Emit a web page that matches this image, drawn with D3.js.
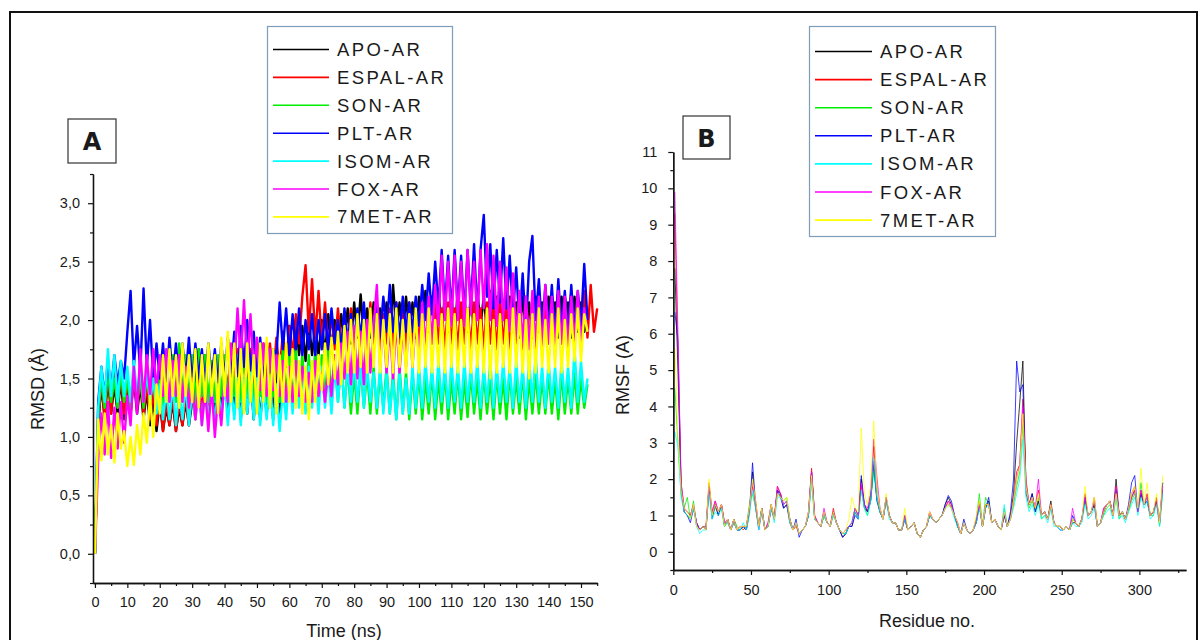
<!DOCTYPE html>
<html>
<head>
<meta charset="utf-8">
<script src="https://cdn.jsdelivr.net/npm/d3@7"></script>
<style>
  html, body { margin: 0; padding: 0; background: #fff; }
  svg { display: block; }
  text { font-family: "Liberation Sans", Arial, sans-serif; fill: #1a1a1a; }
</style>
</head>
<body>
<svg id="chart" width="1200" height="640"></svg>
<script>
// ---------------- DATA ----------------
const seriesNames = ["APO-AR", "ESPAL-AR", "SON-AR", "PLT-AR", "ISOM-AR", "FOX-AR", "7MET-AR"];
const seriesColors = ["#000000", "#ff0000", "#00ee00", "#0000ff", "#00ffff", "#ff00ff", "#ffff00"];

// Panel A: RMSD (Å) sampled every 1 ns from t = 0 ns (noisy trajectories, read as band extremes)
const rmsdAPO = [
0,1.1,1.45,1.15,1.5,1.2,1.45,1.2,1.5,1.15,
1.45,1.2,1.5,1.2,1.45,1.15,1.4,1.1,1.3,1.05,
1.3,1.05,1.25,1.1,1.3,1.05,1.25,1.1,1.3,1.1,
1.3,1.5,1.75,1.45,1.7,1.25,1.5,1.2,1.55,1.2,
1.55,1.2,1.6,1.2,1.55,1.15,1.5,1.2,1.55,1.15,
1.5,1.15,1.45,1.2,1.5,1.15,1.6,1.2,1.65,1.6,
1.95,1.65,2.0,1.7,1.95,1.65,2.0,1.7,1.95,1.7,
2.0,1.7,2.05,1.75,2.0,1.75,2.05,1.8,2.1,1.8,
2.15,1.85,2.22,1.85,2.1,1.85,2.15,1.9,2.1,1.85,
2.15,1.85,2.3,1.9,2.15,1.85,2.2,1.9,2.15,1.85,
2.2,1.9,2.25,1.9,2.2,1.9,2.25,1.95,2.2,1.9,
2.2,1.9,2.25,1.95,2.2,1.9,2.2,1.9,2.25,1.95,
2.2,1.9,2.25,1.9,2.2,1.9,2.15,1.85,2.2,1.9,
2.15,1.85,2.2,1.9,2.15,1.85,2.2,1.9,2.15,1.85,
2.2,1.9,2.15,1.85,2.2,1.9,2.15,1.85,2.2,1.9,
2.15,1.9,2.05];
const rmsdESPAL = [
0,1.1,1.5,1.15,1.55,1.2,1.6,1.25,1.55,1.2,
1.5,1.2,1.55,1.25,1.5,1.2,1.45,1.15,1.4,1.1,
1.35,1.05,1.3,1.1,1.35,1.05,1.3,1.1,1.35,1.1,
1.4,1.15,1.5,1.2,1.55,1.25,1.6,1.3,1.6,1.35,
1.65,1.4,1.7,1.4,1.75,1.45,1.7,1.4,1.75,1.45,
1.75,1.45,1.8,1.5,1.8,1.5,1.85,1.55,1.9,1.6,
1.95,1.7,2.05,1.8,2.2,2.47,1.9,2.35,1.85,2.25,
1.8,2.15,1.75,2.05,1.75,2.1,1.75,2.05,1.8,2.1,
1.75,2.05,1.8,2.1,1.75,2.15,1.8,2.1,1.75,2.05,
1.8,2.1,1.75,2.15,1.8,2.1,1.75,2.15,1.8,2.1,
1.8,2.15,1.75,2.1,1.8,2.15,1.8,2.1,1.75,2.15,
1.8,2.1,1.75,2.15,1.8,2.1,1.75,2.15,1.8,2.1,
1.75,2.15,1.8,2.1,1.75,2.15,1.8,2.1,1.75,2.2,
1.8,2.15,1.75,2.2,1.8,2.15,1.75,2.2,1.8,2.15,
1.8,2.2,1.75,2.25,1.8,2.2,1.8,2.25,1.85,2.2,
1.85,2.25,1.85,2.3,1.9,2.1];
const rmsdSON = [
0,1.2,1.5,1.25,1.55,1.3,1.5,1.25,1.55,1.3,
1.5,1.25,1.55,1.3,1.5,1.25,1.55,1.3,1.55,1.25,
1.6,1.25,1.65,1.3,1.7,1.3,1.8,1.35,1.7,1.3,
1.7,1.3,1.75,1.35,1.7,1.3,1.65,1.3,1.7,1.35,
1.7,1.3,1.75,1.35,1.7,1.3,1.75,1.35,1.7,1.3,
1.7,1.35,1.75,1.3,1.7,1.35,1.7,1.3,1.75,1.35,
1.7,1.3,1.75,1.35,1.7,1.3,1.7,1.35,1.75,1.3,
1.7,1.3,1.75,1.35,1.7,1.3,1.65,1.25,1.6,1.2,
1.55,1.2,1.6,1.25,1.55,1.2,1.6,1.2,1.55,1.25,
1.6,1.2,1.55,1.15,1.6,1.2,1.55,1.15,1.55,1.2,
1.55,1.15,1.5,1.2,1.55,1.15,1.5,1.2,1.55,1.15,
1.5,1.2,1.55,1.15,1.5,1.17,1.55,1.2,1.5,1.15,
1.55,1.2,1.5,1.15,1.55,1.2,1.5,1.15,1.55,1.2,
1.5,1.2,1.55,1.15,1.5,1.2,1.55,1.2,1.5,1.2,
1.55,1.2,1.5,1.15,1.55,1.2,1.5,1.2,1.55,1.2,
1.5,1.25,1.45];
const rmsdPLT = [
0,1.3,1.6,1.35,1.65,1.4,1.7,1.45,1.65,1.5,
1.9,2.25,1.6,1.95,1.55,2.27,1.6,2.0,1.5,1.8,
1.5,1.8,1.45,1.85,1.5,1.8,1.45,1.8,1.5,1.85,
1.45,1.8,1.5,1.75,1.45,1.8,1.5,1.75,1.45,1.8,
1.5,1.85,1.55,1.9,1.5,1.95,1.6,2.0,1.55,1.9,
1.5,1.85,1.45,1.8,1.55,1.75,1.7,2.15,1.75,2.1,
1.7,2.05,1.75,2.1,1.7,2.0,1.75,2.05,1.7,2.0,
1.75,2.05,1.75,2.1,1.8,2.0,1.75,2.1,1.8,2.05,
1.8,2.1,1.85,2.15,1.8,2.1,1.85,2.15,1.85,2.2,
1.9,2.3,1.9,2.15,1.85,2.2,1.9,2.15,1.9,2.2,
1.95,2.3,2.0,2.4,2.05,2.5,2.1,2.6,2.1,2.55,
2.05,2.6,2.1,2.55,2.05,2.6,2.1,2.65,2.05,2.6,
2.9,2.2,2.65,2.1,2.6,2.15,2.7,2.1,2.55,2.05,
2.45,1.95,2.4,1.9,2.5,2.72,2.0,2.35,1.9,2.3,
1.9,2.3,1.85,2.35,1.9,2.25,1.85,2.3,1.9,2.25,
1.95,2.48,2.0];
const rmsdISOM = [
0,1.25,1.6,1.3,1.75,1.35,1.7,1.3,1.65,1.35,
1.6,1.3,1.65,1.35,1.6,1.3,1.55,1.3,1.5,1.2,
1.45,1.15,1.4,1.15,1.45,1.1,1.4,1.15,1.45,1.1,
1.4,1.15,1.45,1.1,1.4,1.15,1.45,1.1,1.45,1.15,
1.5,1.1,1.45,1.15,1.5,1.1,1.5,1.2,1.55,1.15,
1.5,1.1,1.45,1.15,1.5,1.1,1.45,1.05,1.4,1.15,
1.55,1.2,1.6,1.25,1.55,1.2,1.6,1.25,1.55,1.2,
1.6,1.25,1.55,1.2,1.6,1.3,1.65,1.25,1.6,1.3,
1.65,1.3,1.6,1.25,1.6,1.3,1.55,1.25,1.6,1.2,
1.55,1.2,1.5,1.15,1.55,1.2,1.5,1.2,1.6,1.25,
1.6,1.25,1.65,1.3,1.6,1.25,1.65,1.3,1.6,1.25,
1.65,1.3,1.6,1.25,1.65,1.3,1.6,1.3,1.65,1.25,
1.6,1.3,1.65,1.25,1.6,1.3,1.65,1.3,1.6,1.25,
1.65,1.3,1.6,1.25,1.65,1.3,1.7,1.3,1.6,1.25,
1.65,1.3,1.6,1.25,1.65,1.3,1.6,1.25,1.75,1.3,
1.65,1.3,1.5];
const rmsdFOX = [
0,0.8,1.2,0.85,1.3,0.82,1.25,0.9,1.3,0.95,
1.35,1.1,1.6,1.2,1.75,1.3,1.7,1.35,1.75,1.4,
1.7,1.35,1.75,1.3,1.65,1.35,1.7,1.3,1.6,1.25,
1.5,1.15,1.45,1.1,1.4,1.05,1.45,1.0,1.35,1.1,
1.5,1.3,1.8,1.55,2.1,1.65,2.17,1.6,2.05,1.55,
1.85,1.4,1.8,1.35,1.75,1.4,1.7,1.35,1.65,1.3,
1.6,1.3,1.65,1.35,1.6,1.3,1.55,1.3,1.65,1.35,
1.55,1.3,1.6,1.35,1.7,1.45,1.8,1.5,1.9,1.45,
1.95,1.5,1.9,1.45,2.0,1.55,1.95,2.3,1.6,2.0,
1.55,1.95,1.5,2.0,1.55,1.95,1.6,2.05,1.6,2.0,
1.7,2.15,1.75,2.2,1.8,2.3,1.95,2.55,2.0,2.5,
1.95,2.55,2.0,2.5,1.95,2.6,2.05,2.5,2.0,2.6,
2.1,2.65,2.0,2.55,1.95,2.5,2.0,2.45,1.9,2.4,
1.85,2.25,1.8,2.2,1.75,2.25,1.8,2.2,1.75,2.3,
1.8,2.2,1.75,2.25,1.8,2.2,1.75,2.2,1.8,2.25,
1.8,2.1,1.9];
const rmsd7MET = [
0,1.15,0.8,1.2,0.85,1.1,0.78,1.2,0.9,1.05,
0.75,1.0,0.76,1.1,0.85,1.2,0.95,1.35,1.0,1.45,
1.2,1.7,1.3,1.75,1.35,1.7,1.25,1.8,1.35,1.7,
1.3,1.75,1.25,1.7,1.3,1.8,1.35,1.7,1.2,1.85,
1.35,1.9,1.3,1.8,1.25,1.75,1.2,1.8,1.3,1.7,
1.2,1.8,1.3,1.85,1.25,1.75,1.2,1.7,1.3,1.8,
1.3,1.75,1.25,1.65,1.2,1.6,1.15,1.65,1.3,1.7,
1.4,1.8,1.45,1.85,1.5,1.9,1.45,1.95,1.55,2.0,
1.55,2.05,1.6,2.0,1.55,2.1,1.6,2.05,1.55,2.0,
1.6,2.05,1.55,2.1,1.6,2.0,1.55,2.05,1.6,2.1,
1.55,2.05,1.6,2.1,1.55,2.0,1.6,2.05,1.55,2.1,
1.6,2.05,1.55,2.0,1.6,2.1,1.55,2.05,1.6,2.0,
1.55,2.1,1.5,2.0,1.55,2.05,1.6,2.0,1.55,2.1,
1.6,2.05,1.55,2.0,1.5,2.05,1.55,2.1,1.6,2.0,
1.55,2.05,1.6,2.1,1.55,2.0,1.6,2.05,1.65,2.1,
1.65,2.05,1.9];

// Panel B: RMSF (A) for residues 1, 3, 5, ..., 315
const rmsfAPO = [
7.8,5.0,1.8,1.1,1.0,0.9,1.2,0.8,0.6,0.7,
0.6,1.8,1.0,1.3,1.0,1.3,0.7,0.9,0.6,0.8,
0.6,0.6,0.7,0.6,1.1,2.2,1.2,0.7,1.2,0.6,
0.7,1.2,0.9,1.7,1.6,1.2,1.3,0.8,0.6,0.8,
0.5,0.6,0.7,1.0,2.2,0.9,0.8,0.7,1.0,0.8,
0.7,1.1,0.8,0.6,0.4,0.5,0.7,0.7,1.1,0.9,
2.0,1.2,1.1,1.4,2.4,1.5,1.1,0.9,1.4,1.0,
0.8,0.8,0.6,0.6,0.9,0.6,0.7,0.8,0.5,0.4,
0.6,0.7,1.0,0.9,0.8,0.9,1.0,1.3,1.5,1.3,
1.0,0.7,0.5,0.8,0.6,0.5,0.6,0.8,1.3,0.7,
1.2,1.4,0.8,0.9,0.7,0.6,1.0,0.7,1.0,1.6,
3.0,4.1,5.25,1.8,1.3,1.6,1.1,1.4,1.0,1.1,
0.9,1.4,0.8,0.7,0.7,0.6,0.7,0.6,0.8,0.8,
0.7,0.9,1.5,1.0,1.1,1.3,0.7,0.8,1.1,1.3,
1.4,1.0,2.0,1.0,1.1,0.9,1.2,1.5,1.7,1.1,
1.6,1.3,1.4,1.0,1.1,1.4,0.8,1.9];
const rmsfESPAL = [
9.3,5.5,1.9,1.2,1.1,1.0,1.3,0.7,0.6,0.7,
0.7,1.9,1.1,1.4,1.1,1.3,0.8,0.8,0.6,0.9,
0.6,0.7,0.6,0.7,1.2,1.8,1.4,0.7,1.1,0.6,
0.8,1.3,0.9,1.8,1.6,1.3,1.4,0.9,0.6,0.7,
0.5,0.6,0.7,1.1,2.3,1.0,0.8,0.7,1.1,0.8,
0.7,1.2,0.8,0.6,0.5,0.6,0.7,0.8,1.2,1.0,
1.8,1.3,1.1,1.6,2.9,1.8,1.2,0.9,1.5,1.0,
0.8,0.8,0.6,0.6,1.0,0.6,0.7,0.8,0.5,0.4,
0.6,0.7,1.1,0.9,0.8,0.9,1.0,1.2,1.4,1.2,
1.0,0.8,0.5,0.8,0.6,0.5,0.6,0.9,1.4,0.7,
1.3,1.3,0.8,0.9,0.7,0.6,1.1,0.7,0.9,1.4,
2.2,2.4,4.2,2.0,1.3,1.5,1.2,1.7,1.0,1.1,
0.9,1.3,0.8,0.7,0.7,0.6,0.7,0.6,0.9,0.8,
0.7,0.9,1.6,1.0,1.1,1.5,0.7,0.8,1.2,1.3,
1.4,1.0,1.8,1.0,1.1,0.9,1.2,1.6,1.8,1.1,
1.7,1.3,1.6,1.0,1.1,1.5,0.8,1.8];
const rmsfSON = [
4.5,3.0,1.6,1.2,1.5,0.9,1.4,0.7,0.6,0.7,
0.6,1.7,1.0,1.2,1.1,1.2,0.7,0.9,0.6,0.9,
0.7,0.6,0.7,0.7,1.3,1.6,1.2,0.7,1.2,0.6,
0.7,1.3,0.9,1.6,1.5,1.4,1.5,0.9,0.6,0.8,
0.5,0.6,0.7,1.0,2.0,0.9,0.8,0.7,1.0,0.8,
0.7,1.0,0.8,0.6,0.5,0.5,0.7,0.8,1.2,1.0,
1.7,1.2,1.0,1.4,2.2,1.5,1.1,0.9,1.5,1.0,
0.8,0.8,0.6,0.6,1.0,0.6,0.7,0.8,0.5,0.4,
0.6,0.7,1.0,0.9,0.8,0.9,1.0,1.2,1.3,1.2,
1.0,0.7,0.5,0.8,0.6,0.5,0.6,0.9,1.6,0.7,
1.5,1.3,0.8,0.9,0.7,0.6,1.2,0.7,0.9,1.3,
1.8,2.2,3.5,1.8,1.2,1.4,1.1,1.5,0.9,1.0,
0.9,1.2,0.8,0.7,0.7,0.6,0.7,0.6,0.9,0.8,
0.7,0.9,1.4,1.0,1.1,1.4,0.7,0.8,1.0,1.2,
1.3,1.0,1.5,0.9,1.1,0.9,1.1,1.4,1.6,1.1,
1.9,1.3,1.5,1.0,1.0,1.4,0.7,1.7];
const rmsfPLT = [
6.6,5.8,1.7,1.1,1.0,0.8,1.2,0.8,0.6,0.7,
0.6,1.8,0.9,1.3,1.0,1.3,0.7,0.9,0.6,0.9,
0.6,0.6,0.7,0.6,1.1,2.45,1.3,0.6,1.2,0.6,
0.7,1.2,0.9,1.7,1.5,1.2,1.3,0.9,0.6,0.9,
0.4,0.6,0.7,1.0,2.2,0.9,0.8,0.7,1.1,0.8,
0.7,1.1,0.8,0.6,0.4,0.5,0.7,0.7,1.0,0.9,
2.1,1.3,1.1,1.4,2.5,1.4,1.1,0.9,1.5,1.0,
0.8,0.8,0.6,0.6,0.9,0.6,0.7,0.8,0.5,0.4,
0.6,0.7,1.0,0.9,0.8,0.9,1.0,1.3,1.55,1.4,
1.0,0.7,0.5,0.9,0.6,0.5,0.6,0.8,1.3,0.7,
1.2,1.5,0.8,0.9,0.7,0.6,1.0,0.7,1.1,2.0,
5.25,4.4,4.6,1.6,1.3,1.6,1.1,1.4,1.0,1.1,
0.9,1.3,0.8,0.7,0.6,0.6,0.7,0.6,1.0,0.8,
0.7,0.9,1.5,1.0,1.1,1.3,0.7,0.8,1.1,1.3,
1.4,1.0,1.7,1.0,1.1,0.9,1.3,1.9,2.1,1.1,
1.6,1.3,1.4,1.0,1.1,1.4,0.8,1.9];
const rmsfISOM = [
3.3,2.9,1.5,1.1,1.0,0.9,1.2,0.7,0.5,0.6,
0.6,1.6,0.9,1.1,1.0,1.2,0.7,0.8,0.6,0.8,
0.6,0.6,0.8,0.6,1.0,1.7,1.2,0.6,1.1,0.6,
0.7,1.2,0.8,1.5,1.5,1.3,1.4,0.8,0.6,0.8,
0.5,0.6,0.7,1.0,1.9,0.9,0.8,0.7,1.0,0.8,
0.7,1.0,0.8,0.6,0.5,0.5,0.7,0.8,1.1,0.9,
1.7,1.2,1.0,1.4,2.6,1.5,1.1,0.9,1.4,0.9,
0.8,0.8,0.6,0.6,0.9,0.6,0.7,0.8,0.5,0.4,
0.6,0.7,1.0,0.9,0.8,0.9,1.0,1.2,1.3,1.2,
0.9,0.7,0.5,0.8,0.6,0.5,0.6,0.8,1.2,0.7,
1.2,1.3,0.8,0.9,0.7,0.6,1.3,0.7,0.9,1.2,
1.6,2.0,3.1,1.5,1.1,1.3,1.0,1.3,0.9,1.0,
0.8,1.2,0.7,0.7,0.6,0.6,0.7,0.6,0.8,0.7,
0.7,0.8,1.3,0.9,1.0,1.2,0.7,0.8,1.0,1.1,
1.2,0.9,1.5,0.9,1.0,0.8,1.1,1.3,1.5,1.0,
1.5,1.2,1.4,0.9,1.0,1.3,0.7,1.6];
const rmsfFOX = [
9.9,6.0,1.9,1.2,1.1,1.0,1.3,0.8,0.6,0.7,
0.6,1.8,1.1,1.4,1.1,1.3,0.8,0.9,0.6,0.9,
0.6,0.7,0.7,0.7,1.2,1.9,1.3,0.7,1.2,0.6,
0.8,1.3,0.9,1.8,1.6,1.3,1.4,0.9,0.6,0.8,
0.5,0.6,0.7,1.1,2.2,1.0,0.8,0.7,1.2,0.8,
0.7,1.1,0.8,0.6,0.5,0.6,0.7,0.8,1.2,1.0,
1.9,1.3,1.2,1.6,3.1,2.1,1.2,0.9,1.5,1.0,
0.8,0.8,0.6,0.6,1.0,0.6,0.7,0.8,0.5,0.4,
0.6,0.7,1.1,0.9,0.8,0.9,1.0,1.2,1.4,1.3,
1.0,0.8,0.5,0.8,0.6,0.5,0.6,0.9,1.3,0.7,
1.3,1.3,0.8,0.9,0.7,0.6,1.1,0.7,0.9,1.4,
2.0,2.4,4.0,1.9,1.3,1.5,1.2,2.0,1.0,1.1,
0.9,1.3,0.8,0.7,0.7,0.6,0.7,0.6,1.2,0.8,
0.7,0.9,1.5,1.0,1.1,1.4,0.7,0.8,1.2,1.3,
1.4,1.0,1.8,1.0,1.1,0.9,1.2,1.5,1.7,1.1,
1.7,1.3,1.5,1.0,1.1,1.4,0.8,1.8];
const rmsf7MET = [
5.6,3.2,1.7,1.2,1.1,0.9,1.3,0.7,0.6,0.7,
0.6,2.0,1.0,1.3,1.1,1.3,0.7,0.9,0.6,0.9,
0.6,0.7,0.7,0.7,1.2,2.0,1.4,0.7,1.2,0.6,
0.7,1.3,0.9,1.6,1.5,1.4,1.5,0.9,0.6,0.8,
0.5,0.6,0.7,1.1,2.1,0.9,0.8,0.7,1.1,0.8,
0.7,1.1,0.8,0.6,0.5,0.6,0.9,1.5,1.2,1.1,
3.4,1.6,1.3,1.8,3.6,1.8,1.2,0.9,1.6,1.0,
0.8,0.8,0.6,0.6,1.2,0.6,0.7,0.8,0.5,0.4,
0.6,0.7,1.1,0.9,0.8,0.9,1.0,1.2,1.3,1.2,
1.0,0.8,0.5,0.8,0.6,0.5,0.6,1.0,1.4,0.7,
1.3,1.3,0.8,0.9,0.7,0.6,1.1,0.7,0.9,1.4,
2.0,2.3,3.8,1.8,1.3,1.5,1.2,1.6,1.0,1.1,
0.9,1.3,0.8,0.7,0.7,0.6,0.7,0.6,0.9,0.8,
0.7,0.9,1.8,1.0,1.1,1.5,0.7,0.8,1.1,1.3,
1.4,1.0,1.6,1.0,1.1,0.9,1.2,1.6,1.8,1.2,
2.3,1.3,1.9,1.0,1.1,1.6,0.8,2.1];

const rmsdSeries = [rmsdAPO, rmsdESPAL, rmsdSON, rmsdPLT, rmsdISOM, rmsdFOX, rmsd7MET];
const rmsfSeries = [rmsfAPO, rmsfESPAL, rmsfSON, rmsfPLT, rmsfISOM, rmsfFOX, rmsf7MET];

const timeTicks = [0,10,20,30,40,50,60,70,80,90,100,110,120,130,140,150];
const rmsdTicks = [0,0.5,1.0,1.5,2.0,2.5,3.0];
const residueTicks = [0,50,100,150,200,250,300];
const rmsfTicks = [0,1,2,3,4,5,6,7,8,9,10,11];

// ---------------- DRAWING ----------------
const svg = d3.select("#chart");

// outer frame
svg.append("rect").attr("x", 10).attr("y", 12).attr("width", 1187).attr("height", 700)
  .attr("fill", "none").attr("stroke", "#111").attr("stroke-width", 2);

const commaFmt = d => d3.format(".1f")(d).replace(".", ",");

function styleAxis(g, fontSize) {
  g.select(".domain").attr("stroke", "#111").attr("stroke-width", 1.3);
  g.selectAll(".tick line").attr("stroke", "#111").attr("stroke-width", 1.2);
  g.selectAll(".tick text").attr("fill", "#1a1a1a")
    .style("font-family", '"Liberation Sans", Arial, sans-serif').style("font-size", fontSize + "px");
}

function drawPanel(cfg) {
  const g = svg.append("g");
  const x = d3.scaleLinear().domain(cfg.xDomain).range(cfg.xRange);
  const y = d3.scaleLinear().domain(cfg.yDomain).range(cfg.yRange);

  // data lines
  const line = d3.line().x(d => x(d[0])).y(d => y(d[1]));
  cfg.series.forEach((vals, i) => {
    const pts = vals.map((v, j) => [cfg.xOf(j), v]);
    g.append("path").datum(pts)
      .attr("d", line)
      .attr("fill", "none")
      .attr("stroke", seriesColors[i])
      .attr("stroke-width", cfg.lineWidth)
      .attr("stroke-opacity", cfg.lineOpacity)
      .attr("stroke-linejoin", "round");
  });

  // minor ticks
  g.append("g").attr("transform", `translate(0,${cfg.yRange[0]})`)
    .call(d3.axisBottom(x).tickValues(cfg.xMinor).tickSize(3).tickSizeOuter(0).tickFormat(""))
    .call(a => styleAxis(a, 14));
  g.append("g").attr("transform", `translate(${cfg.xRange[0]},0)`)
    .call(d3.axisLeft(y).tickValues(cfg.yMinor).tickSize(3).tickSizeOuter(0).tickFormat(""))
    .call(a => styleAxis(a, 14));
  // major ticks
  g.append("g").attr("transform", `translate(0,${cfg.yRange[0]})`)
    .call(d3.axisBottom(x).tickValues(cfg.xTicks).tickSize(5).tickSizeOuter(0).tickPadding(cfg.xPad).tickFormat(d3.format("d")))
    .call(a => styleAxis(a, 14.5));
  g.append("g").attr("transform", `translate(${cfg.xRange[0]},0)`)
    .call(d3.axisLeft(y).tickValues(cfg.yTicks).tickSize(5).tickSizeOuter(0).tickPadding(cfg.yPad).tickFormat(cfg.yFmt))
    .call(a => styleAxis(a, 14.5));

  // axis titles
  g.append("text").attr("x", cfg.xTitlePos[0]).attr("y", cfg.xTitlePos[1])
    .attr("text-anchor", "middle").style("font-size", "18px").text(cfg.xTitle);
  g.append("text").attr("transform", `translate(${cfg.yTitlePos[0]},${cfg.yTitlePos[1]}) rotate(-90)`)
    .attr("text-anchor", "middle").attr("dominant-baseline", "central")
    .style("font-size", "18px").text(cfg.yTitle);

  // panel letter box
  const b = cfg.letterBox;
  g.append("rect").attr("x", b[0]).attr("y", b[1]).attr("width", b[2]).attr("height", b[3])
    .attr("fill", "#fff").attr("stroke", "#333").attr("stroke-width", 1.2);
  g.append("text").attr("x", b[0] + b[2] / 2).attr("y", b[1] + b[3] / 2 + 1)
    .attr("text-anchor", "middle").attr("dominant-baseline", "central")
    .style("font-family", '"DejaVu Sans", sans-serif').style("font-weight", "900")
    .style("font-size", "24px").attr("fill", "#000").text(cfg.letter);

  // legend
  const L = cfg.legend;
  g.append("rect").attr("x", L.x).attr("y", L.y).attr("width", L.w).attr("height", L.h)
    .attr("fill", "#fff").attr("stroke", "#7f9db9").attr("stroke-width", 1.2);
  seriesNames.forEach((name, i) => {
    const yy = L.row0 + i * L.step;
    g.append("line").attr("x1", L.lx1).attr("x2", L.lx2).attr("y1", yy).attr("y2", yy)
      .attr("stroke", seriesColors[i]).attr("stroke-width", 1.6);
    g.append("text").attr("x", L.tx).attr("y", yy).attr("dominant-baseline", "central")
      .style("font-size", "18.5px").style("letter-spacing", "2.4px").text(name);
  });
}

// Panel A
drawPanel({
  xDomain: [-0.6, 155], xRange: [93, 597.2],
  yDomain: [-0.25, 3.25], yRange: [583, 174],
  series: rmsdSeries, xOf: j => j,
  lineWidth: 2.4, lineOpacity: 1,
  xTicks: timeTicks, xMinor: d3.range(5, 156, 10),
  yTicks: rmsdTicks, yMinor: d3.range(-0.25, 3.26, 0.5),
  yFmt: commaFmt, xPad: 9, yPad: 8,
  xTitle: "Time (ns)", xTitlePos: [344, 637],
  yTitle: "RMSD (Å)", yTitlePos: [38, 389],
  letter: "A", letterBox: [68, 119, 48, 44],
  legend: { x: 267.5, y: 26.5, w: 185, h: 207, row0: 49.5, step: 27.9, lx1: 273, lx2: 329, tx: 337 }
});

// Panel B
drawPanel({
  xDomain: [0, 330], xRange: [673.3, 1186],
  yDomain: [-0.5, 11], yRange: [570, 152],
  series: rmsfSeries, xOf: j => 1 + 2 * j,
  lineWidth: 1, lineOpacity: 0.75,
  xTicks: residueTicks, xMinor: d3.range(25, 330, 50),
  yTicks: rmsfTicks, yMinor: d3.range(-0.5, 11, 1),
  yFmt: d3.format("d"), xPad: 9.5, yPad: 11,
  xTitle: "Residue no.", xTitlePos: [927, 627],
  yTitle: "RMSF (A)", yTitlePos: [623, 375],
  letter: "B", letterBox: [683, 116, 47, 43],
  legend: { x: 809.5, y: 26.5, w: 186, h: 210, row0: 51.5, step: 28.1, lx1: 815, lx2: 872, tx: 880 }
});
</script>
</body>
</html>
